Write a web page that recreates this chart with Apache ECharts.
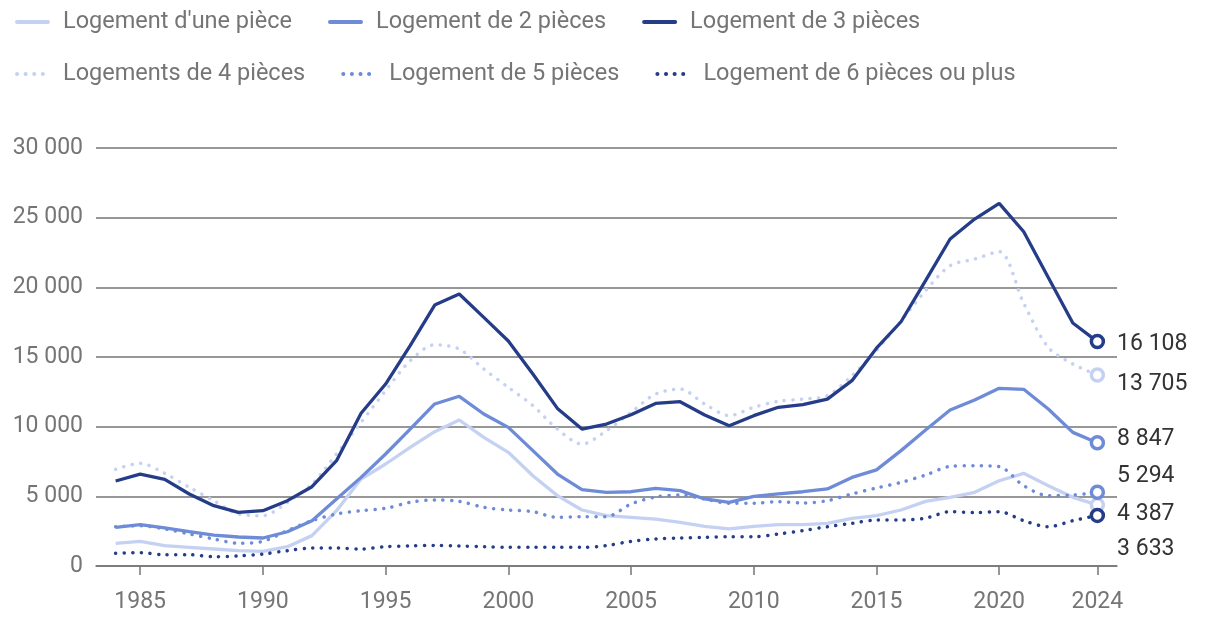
<!DOCTYPE html>
<html>
<head>
<meta charset="utf-8">
<script src="https://cdn.jsdelivr.net/npm/echarts@6/dist/echarts.min.js"></script>
<style>
  html, body { margin: 0; padding: 0; background: #fff; }
  #chart { width: 1220px; height: 628px; }
</style>
</head>
<body>
<div id="chart"></div>
<script>
// années 1984 -> 2024
var years = [];
for (var y = 1984; y <= 2024; y++) years.push(y);

var xTicks = [1985, 1990, 1995, 2000, 2005, 2010, 2015, 2020, 2024];

var unePiece = [1630, 1770, 1460, 1340, 1220, 1100, 1050, 1390, 2180, 3970,
  6240, 7320, 8520, 9640, 10480, 9230, 8160, 6480, 5050, 4020,
  3610, 3490, 3370, 3130, 2850, 2660, 2850, 2970, 2970, 3060,
  3420, 3610, 4020, 4640, 4930, 5290, 6120, 6650, 5760, 4930, 4387];

var deuxPieces = [2770, 2970, 2730, 2460, 2220, 2080, 2010, 2460, 3250, 4810,
  6360, 8040, 9830, 11630, 12180, 10910, 9950, 8280, 6600, 5480,
  5290, 5330, 5570, 5410, 4810, 4570, 5000, 5170, 5330, 5530,
  6360, 6900, 8280, 9760, 11190, 11910, 12750, 12680, 11270, 9590, 8847];

var troisPieces = [6100, 6600, 6220, 5170, 4330, 3850, 3970, 4690, 5690, 7560,
  10960, 13060, 15810, 18730, 19520, 17840, 16150, 13780, 11310, 9830,
  10190, 10860, 11670, 11790, 10840, 10070, 10790, 11390, 11580, 11980,
  13300, 15630, 17530, 20480, 23470, 24900, 26030, 23990, 20710, 17440, 16108];

var quatrePieces = [6940, 7370, 6650, 5650, 4690, 3730, 3610, 4570, 5880, 8040,
  10310, 12580, 14730, 15880, 15570, 14140, 12820, 11510, 9830, 8750,
  9710, 11030, 12340, 12700, 11630, 10790, 11390, 11820, 11980, 12220,
  13660, 15470, 17600, 19760, 21550, 22030, 22560, 18850, 15690, 14500, 13705];

var cinqPieces = [2820, 2890, 2660, 2300, 1940, 1630, 1770, 2540, 3250, 3730,
  3970, 4140, 4570, 4740, 4640, 4210, 4020, 3900, 3490, 3540,
  3540, 4450, 4950, 5090, 4810, 4500, 4500, 4620, 4520, 4690,
  5170, 5600, 6000, 6530, 7150, 7200, 7130, 5760, 5050, 5090, 5294];

var sixPieces = [910, 960, 810, 810, 670, 720, 860, 1100, 1290, 1290,
  1220, 1390, 1440, 1480, 1440, 1390, 1340, 1340, 1340, 1340,
  1460, 1770, 1940, 2010, 2060, 2100, 2100, 2300, 2540, 2820,
  3060, 3300, 3300, 3440, 3900, 3830, 3900, 3250, 2820, 3250, 3633];

var CLAIR = '#c5d1f3';
var MOYEN = '#6e8bd8';
var FONCE = '#253c88';

function fmt(v) {
  return String(v).replace(/\B(?=(\d{3})+(?!\d))/g, ' ');
}

// construit une série, le dernier point porte le cercle et l'étiquette
function makeSeries(name, values, color, dotted, labelDy) {
  var data = values.map(function (v, i) { return [years[i], v]; });
  var last = data.length - 1;
  data[last] = {
    value: data[last],
    symbol: 'circle',
    symbolSize: 12,
    itemStyle: { color: '#fff', borderColor: color, borderWidth: 3.5 },
    label: {
      show: true,
      position: 'right',
      distance: 12,
      offset: [0, labelDy],
      formatter: function (p) { return fmt(p.value[1]); },
      color: '#333',
      fontSize: 23,
      fontFamily: 'Roboto'
    }
  };
  return {
    name: name,
    type: 'line',
    data: data,
    symbol: 'none',
    smooth: dotted ? 0.3 : false,
    itemStyle: { color: color },
    lineStyle: dotted
      ? { color: color, width: 3.5, type: [0.1, 8.5], cap: 'round' }
      : { color: color, width: 3.3 },
    emphasis: { disabled: true },
    animation: false
  };
}

var chart = echarts.init(document.getElementById('chart'));

var legendText = { color: '#757575', fontSize: 23.5, fontFamily: 'Roboto', padding: [0, 0, 0, 10] };
var legendBase = {
  left: 10,
  itemWidth: 31, itemHeight: 14, itemGap: 36,
  itemStyle: { opacity: 0 },
  lineStyle: { width: 4, cap: 'round' },
  textStyle: legendText,
  selectedMode: false
};

var option = {
  textStyle: { fontFamily: 'Roboto' },
  legend: [
    Object.assign({}, legendBase, {
      top: 5,
      data: ["Logement d'une pièce", 'Logement de 2 pièces', 'Logement de 3 pièces']
    }),
    Object.assign({}, legendBase, {
      top: 57,
      data: ['Logements de 4 pièces', 'Logement de 5 pièces', 'Logement de 6 pièces ou plus']
    })
  ],
  grid: { left: 96, right: 103, top: 148, bottom: 62, containLabel: false },
  xAxis: {
    type: 'value',
    min: 1983.2,
    max: 2024.8,
    splitLine: { show: false },
    axisLine: { show: true, lineStyle: { color: '#757575', width: 1.5 } },
    axisTick: { show: true, length: 9, customValues: xTicks, lineStyle: { color: '#757575', width: 1.5 } },
    axisLabel: {
      customValues: xTicks,
      formatter: function (v) { return String(v); },
      color: '#757575', fontSize: 23, margin: 25
    }
  },
  yAxis: {
    type: 'value',
    min: 0, max: 30000, interval: 5000,
    axisLine: { show: false },
    axisTick: { show: false },
    splitLine: { lineStyle: { color: '#757575', width: 1.5 } },
    axisLabel: {
      formatter: function (v) { return fmt(v); },
      color: '#757575', fontSize: 23, margin: 13
    }
  },
  series: [
    makeSeries("Logement d'une pièce", unePiece, CLAIR, false, 9),
    makeSeries('Logement de 2 pièces', deuxPieces, MOYEN, false, -3),
    makeSeries('Logements de 4 pièces', quatrePieces, CLAIR, true, 9),
    makeSeries('Logement de 5 pièces', cinqPieces, MOYEN, true, -16),
    makeSeries('Logement de 6 pièces ou plus', sixPieces, FONCE, true, 34),
    makeSeries('Logement de 3 pièces', troisPieces, FONCE, false, 3)
  ]
};

chart.setOption(option);
</script>
</body>
</html>
